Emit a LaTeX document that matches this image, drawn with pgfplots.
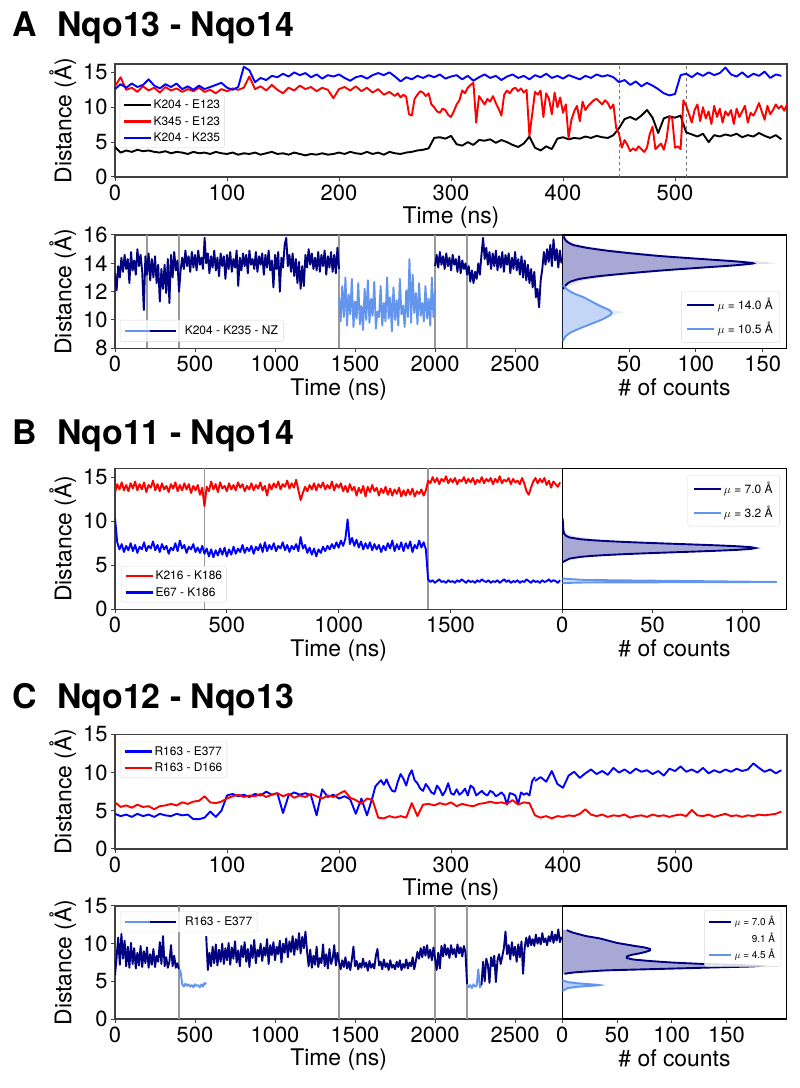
\documentclass[border=0pt]{standalone}
\usepackage{fontspec}
\setmainfont{TeX Gyre Heros}
\usepackage{pgfplots}
\pgfplotsset{compat=1.18}
\definecolor{navyc}{RGB}{0,0,128}
\definecolor{lightb}{RGB}{100,149,237}
\definecolor{redc}{RGB}{255,0,0}
\definecolor{bluec}{RGB}{0,0,255}
\newcommand{\lf}{\fontsize{12}{14}\selectfont}
\newcommand{\smf}{\fontsize{10}{12}\selectfont}
\pgfplotsset{legend image code/.code={\draw[#1, line width=2.2bp] (0bp,0bp) -- (27bp,0bp);}}
\pgfplotsset{
 panel/.style={
  scale only axis, anchor=south west,
  axis line style={black!75, line width=1.1bp},
  every tick/.style={black!75, line width=1bp},
  tick align=outside, major tick length=4bp,
  xtick pos=bottom, ytick pos=left,
  tick label style={font=\fontsize{22}{26}\selectfont},
  label style={font=\fontsize{23}{27}\selectfont},
  /pgf/number format/assume math mode=true,
  /pgf/number format/1000 sep={},
  scaled ticks=false,
  legend cell align=left,
  legend style={draw=black!15, fill=white, fill opacity=0.85, text opacity=1, rounded corners=2bp, inner sep=2.5bp, row sep=2.5bp},
 },
 ts/.style={line width=1.9bp, line join=round},
 vl/.style={black!40, line width=1.3bp, forget plot},
 hleg/.style={legend style={row sep=7bp, inner sep=5bp}},
}
\begin{document}
\begin{tikzpicture}
\path[use as bounding box] (0,0) rectangle (800bp,1088bp);
% titles
\node[anchor=base west, inner sep=0, font=\fontsize{34}{40}\selectfont\bfseries] at (12bp,1051.3bp) {A};
\node[anchor=base west, inner sep=0, font=\fontsize{34}{40}\selectfont\bfseries] at (57bp,1051.3bp) {Nqo13 - Nqo14};
\node[anchor=base west, inner sep=0, font=\fontsize{34}{40}\selectfont\bfseries] at (12bp,643bp) {B};
\node[anchor=base west, inner sep=0, font=\fontsize{34}{40}\selectfont\bfseries] at (57bp,643bp) {Nqo11 - Nqo14};
\node[anchor=base west, inner sep=0, font=\fontsize{34}{40}\selectfont\bfseries] at (12bp,379.7bp) {C};
\node[anchor=base west, inner sep=0, font=\fontsize{34}{40}\selectfont\bfseries] at (57bp,379.7bp) {Nqo12 - Nqo13};

% ---------------- A1 ----------------
\begin{axis}[panel, at={(115bp,911bp)}, width=672bp, height=113bp,
  xmin=0, xmax=600, ymin=0, ymax=16.2, xtick={0,100,200,300,400,500}, ytick={0,5,10,15},
  xlabel={Time (ns)}, ylabel={Distance (Å)},
  legend style={at={(0.007,0.725)}, anchor=north west}]
\addplot[black!55, dashed, line width=1bp, forget plot] coordinates {(450,0) (450,16.2)};
\addplot[black!55, dashed, line width=1bp, forget plot] coordinates {(510,0) (510,16.2)};
\addplot[ts, black] table[header=false, row sep=\\, x expr=\coordindex*5, y index=0] {
4.3\\3.5\\3.8\\3.6\\3.9\\3.7\\3.8\\3.6\\3.5\\3.7\\
3.4\\3.6\\3.5\\3.3\\3.6\\3.4\\3.5\\3.3\\3.6\\3.4\\
3.3\\3.5\\3.2\\3.4\\3.3\\3.5\\3.2\\3.4\\3.6\\3.3\\
3.4\\3.2\\3.5\\3.3\\3.1\\3.3\\3.2\\3.4\\3.2\\3.3\\
3.5\\3.3\\3.6\\3.4\\3.3\\3.6\\3.3\\3.5\\3.2\\3.6\\
3.4\\3.3\\3.5\\3.6\\3.8\\3.9\\4.1\\5.6\\5.7\\5.5\\
5.9\\4.7\\4.5\\5.0\\4.6\\5.3\\5.2\\5.4\\4.9\\5.3\\
5.0\\4.6\\4.3\\4.8\\5.8\\4.2\\3.8\\4.4\\4.0\\5.5\\
5.7\\5.4\\5.6\\5.5\\5.8\\5.6\\5.9\\5.7\\5.6\\6.0\\
7.0\\8.3\\8.6\\8.2\\8.8\\9.6\\8.5\\6.3\\8.4\\8.7\\
8.5\\8.8\\6.4\\6.1\\5.8\\6.2\\5.0\\6.0\\5.8\\6.1\\
5.9\\6.2\\5.7\\6.0\\5.8\\6.3\\5.9\\5.6\\6.0\\5.4\\};
\addlegendentry{\lf K204 - E123}
\addplot[ts, redc] table[header=false, row sep=\\, x expr=\coordindex*5, y index=0] {
13.0\\14.3\\12.5\\12.8\\12.2\\13.0\\12.4\\12.8\\12.1\\12.9\\
12.4\\12.7\\12.2\\12.6\\12.3\\12.8\\12.2\\12.5\\12.0\\12.6\\
12.3\\12.7\\12.5\\12.8\\14.4\\12.6\\13.0\\12.4\\13.2\\12.5\\
12.0\\12.8\\12.4\\13.1\\12.6\\12.9\\12.3\\12.8\\12.5\\11.3\\
12.6\\12.9\\12.4\\13.0\\12.3\\12.8\\12.1\\12.6\\11.8\\12.2\\
11.6\\};
\addlegendentry{\lf K345 - E123}
\addplot[ts, redc, forget plot] table[header=false, row sep=\\, x expr=250+\coordindex*2.5, y index=0] {
11.6\\12.0\\11.4\\11.8\\11.5\\9.0\\8.8\\11.2\\11.8\\12.3\\12.1\\11.6\\12.0\\10.4\\10.0\\9.4\\9.2\\9.8\\9.6\\8.9\\8.6\\
9.4\\10.4\\11.0\\12.4\\12.0\\12.8\\13.2\\13.5\\7.8\\11.6\\11.0\\10.4\\11.2\\10.8\\11.6\\10.6\\9.8\\8.8\\11.8\\12.4\\
12.0\\12.6\\12.8\\12.3\\12.7\\12.1\\12.5\\5.9\\9.0\\12.2\\11.8\\12.4\\8.6\\12.0\\11.2\\9.0\\12.1\\10.0\\11.4\\9.2\\
10.4\\5.6\\8.2\\9.4\\10.2\\8.0\\10.8\\9.6\\10.2\\10.6\\11.0\\11.2\\10.8\\10.4\\11.0\\10.6\\9.8\\10.4\\7.0\\6.2\\
4.2\\5.3\\4.6\\3.7\\4.1\\3.8\\4.4\\4.0\\3.6\\4.2\\6.2\\7.2\\4.0\\4.4\\4.8\\3.9\\5.5\\8.6\\8.4\\4.2\\
4.4\\4.0\\11.0\\10.2\\9.0\\7.8\\9.6\\10.4\\8.0\\10.0\\8.4\\9.4\\7.6\\10.2\\8.6\\9.8\\7.8\\9.4\\8.8\\9.6\\
7.6\\9.8\\8.6\\9.4\\10.2\\7.8\\9.2\\8.8\\9.6\\10.6\\9.4\\8.2\\10.2\\9.0\\9.6\\10.4\\9.8\\10.2\\9.5\\10.4\\};
\addplot[ts, bluec] table[header=false, row sep=\\, x expr=\coordindex*5, y index=0] {
12.6\\13.3\\12.8\\13.4\\12.9\\13.2\\14.0\\13.1\\12.7\\13.3\\
12.9\\13.4\\12.6\\13.0\\12.5\\13.1\\12.6\\12.9\\13.2\\13.5\\
12.8\\12.5\\12.9\\15.8\\15.3\\13.6\\14.2\\13.9\\14.5\\14.3\\
14.8\\14.4\\15.0\\14.6\\14.9\\14.3\\14.7\\14.1\\14.6\\14.4\\
14.7\\14.2\\13.8\\14.3\\14.5\\14.1\\14.6\\14.9\\14.6\\15.0\\
14.4\\13.7\\14.3\\14.0\\14.5\\14.2\\14.6\\14.3\\14.7\\14.1\\
14.4\\14.6\\14.0\\14.5\\13.8\\14.3\\14.7\\14.2\\14.5\\13.9\\
14.4\\14.7\\14.2\\14.5\\14.0\\14.6\\14.3\\14.8\\14.2\\14.5\\
14.1\\14.6\\14.3\\14.0\\14.5\\14.2\\14.7\\14.4\\14.6\\14.3\\
13.6\\13.9\\13.2\\13.7\\13.0\\13.5\\13.1\\12.6\\12.0\\11.7\\
11.9\\14.6\\14.8\\14.3\\14.9\\14.5\\15.0\\14.6\\14.9\\15.7\\
14.7\\14.4\\15.0\\14.3\\14.8\\14.5\\15.1\\14.2\\14.7\\14.5\\};
\addlegendentry{\lf K204 - K235}
\end{axis}

% ---------------- A2 time ----------------
\begin{axis}[panel, at={(115bp,739.7bp)}, width=447.3bp, height=113.3bp,
  xmin=0, xmax=2795, ymin=8, ymax=16, xtick={0,500,1000,1500,2000,2500}, ytick={8,10,12,14,16},
  xlabel={Time (ns)}, ylabel={Distance (Å)},
  legend style={at={(0.011,0.25)}, anchor=north west, inner sep=3.5bp}]
\addplot[vl] coordinates {(200,8) (200,16)};
\addplot[vl] coordinates {(400,8) (400,16)};
\addplot[vl] coordinates {(1400,8) (1400,16)};
\addplot[vl] coordinates {(2000,8) (2000,16)};
\addplot[vl] coordinates {(2200,8) (2200,16)};
\addlegendimage{legend image code/.code={\draw[lightb,line width=2.2bp] (0bp,0bp)--(25bp,0bp); \draw[navyc,line width=2.2bp] (25bp,0bp)--(51bp,0bp);}}
\addlegendentry{\lf\hspace{6bp}K204 - K235 - NZ}
\addplot[ts, navyc, forget plot] table[header=false, row sep=\\, x expr=\coordindex*10, y index=0] {
13.3\\12.1\\13.8\\13.0\\14.4\\13.4\\14.6\\13.6\\14.3\\12.6\\
14.8\\13.5\\14.2\\13.2\\15.0\\13.8\\14.6\\13.4\\10.7\\14.5\\
13.2\\14.7\\12.8\\14.3\\13.0\\14.5\\12.6\\13.9\\11.3\\13.6\\
12.2\\13.9\\11.9\\14.3\\11.2\\14.6\\13.0\\14.8\\13.5\\14.2\\
12.0\\13.5\\14.4\\13.6\\14.9\\13.8\\14.5\\13.4\\14.8\\13.7\\
14.6\\13.5\\14.9\\13.9\\14.4\\13.6\\15.8\\14.0\\14.7\\13.3\\
14.5\\13.7\\14.9\\13.5\\14.4\\13.1\\14.7\\13.8\\14.5\\12.9\\
14.6\\13.6\\14.8\\13.4\\14.3\\13.7\\14.9\\12.4\\14.4\\13.5\\
14.7\\13.8\\14.6\\13.3\\14.9\\13.9\\14.3\\13.6\\14.8\\13.4\\
14.5\\13.9\\14.7\\13.2\\14.6\\13.7\\14.9\\13.5\\14.2\\12.3\\
14.6\\13.6\\14.8\\12.0\\14.4\\13.7\\15.3\\15.8\\13.8\\14.6\\
13.4\\14.7\\13.1\\14.3\\12.6\\14.1\\12.2\\13.8\\12.4\\14.6\\
13.7\\15.0\\13.9\\14.7\\13.6\\14.4\\13.5\\14.8\\13.4\\14.6\\
13.8\\14.9\\13.2\\14.5\\13.7\\14.8\\13.4\\14.6\\13.3\\15.1\\
13.6\\};
\addplot[ts, lightb, forget plot] table[header=false, row sep=\\, x expr=1400+\coordindex*10, y index=0] {
11.6\\9.9\\12.4\\10.2\\13.0\\9.6\\11.8\\10.4\\12.9\\9.5\\
11.3\\10.1\\12.6\\9.7\\11.0\\9.3\\12.2\\10.0\\12.8\\9.8\\
11.5\\10.3\\12.7\\9.4\\10.6\\10.2\\12.4\\9.6\\11.2\\9.9\\
13.0\\10.1\\11.6\\9.2\\12.3\\10.0\\11.4\\9.6\\12.9\\10.4\\
11.0\\9.5\\12.1\\10.2\\14.3\\9.8\\13.2\\10.5\\11.9\\9.7\\
12.6\\10.3\\11.2\\9.9\\12.4\\10.1\\11.5\\9.6\\13.0\\10.2\\
12.1\\};
\addplot[ts, navyc, forget plot] table[header=false, row sep=\\, x expr=2000+\coordindex*10, y index=0] {
13.8\\14.6\\13.7\\14.8\\13.9\\14.5\\13.6\\14.7\\13.8\\14.4\\
13.5\\14.6\\13.9\\14.3\\13.4\\14.5\\13.3\\14.2\\13.6\\14.0\\
13.2\\13.8\\12.7\\13.5\\12.6\\13.4\\12.9\\14.0\\13.2\\14.6\\
15.8\\14.3\\15.1\\13.9\\14.8\\13.6\\14.7\\13.8\\14.9\\13.5\\
14.5\\13.7\\14.8\\13.4\\14.6\\13.9\\14.7\\13.3\\14.4\\13.6\\
14.8\\13.5\\14.3\\13.2\\14.5\\13.0\\14.2\\12.8\\13.9\\12.6\\
13.6\\12.3\\13.4\\11.6\\12.2\\10.9\\12.8\\13.6\\14.8\\13.9\\
15.0\\14.1\\15.3\\13.8\\15.7\\14.2\\15.0\\13.7\\14.9\\14.0\\};
\end{axis}

% ---------------- A2 hist ----------------
\begin{axis}[panel, hleg, at={(562.3bp,739.7bp)}, width=224.4bp, height=113.3bp,
  xmin=0, xmax=168, ymin=8, ymax=16, xtick={50,100,150}, ytick=\empty,
  axis line style={black, line width=1.1bp},
  xlabel={\# of counts},
  legend style={at={(0.97,0.05)}, anchor=south east}]
\addplot[fill=navyc, fill opacity=0.12, draw=none, forget plot] coordinates {(0,12.0)(2,12.2)(5,12.4)(10,12.6)(16,12.8)(30,13.0)(45,13.2)(72,13.4)(96,13.6)(120,13.8)(160,14.0)(152,14.1)(122,14.25)(100,14.4)(72,14.6)(54,14.8)(32,15.0)(19,15.2)(9,15.4)(4,15.6)(1,15.8)(0,16)};
\addplot[fill=lightb, fill opacity=0.18, draw=none, forget plot] coordinates {(0,8.6)(3,8.9)(8,9.2)(16,9.5)(25,9.8)(33,10.1)(40,10.4)(46,10.55)(38,10.7)(31,11.0)(23,11.3)(16,11.6)(10,11.9)(4,12.2)(0,12.5)};
\addplot[fill=navyc, fill opacity=0.25, draw=none, forget plot] coordinates {(0,12.2)(0.5,12.2)(3,12.5)(6,12.7)(13,12.9)(28,13.1)(50,13.3)(75,13.5)(105,13.7)(128,13.85)(143,14.0)(128,14.15)(105,14.3)(75,14.5)(52,14.7)(33,14.9)(18,15.1)(8,15.3)(4,15.5)(2,15.7)(1,15.9)(0,15.9)};
\addplot[fill=lightb, fill opacity=0.25, draw=none, forget plot] coordinates {(0,8.5)(0.5,8.5)(2,8.8)(6,9.1)(13,9.4)(21,9.7)(29,10.0)(35,10.3)(37,10.5)(35,10.7)(28,11.0)(22,11.3)(16,11.6)(8,11.9)(3,12.2)(0.5,12.5)(0,12.5)};
\addplot[navyc, line width=1.9bp, smooth, tension=0.4] coordinates {(0.5,12.2)(3,12.5)(6,12.7)(13,12.9)(28,13.1)(50,13.3)(75,13.5)(105,13.7)(128,13.85)(143,14.0)(128,14.15)(105,14.3)(75,14.5)(52,14.7)(33,14.9)(18,15.1)(8,15.3)(4,15.5)(2,15.7)(1,15.9)};
\addlegendentry{\lf $\mu$ =  14.0 Å}
\addplot[lightb, line width=1.9bp, smooth, tension=0.4] coordinates {(0.5,8.5)(2,8.8)(6,9.1)(13,9.4)(21,9.7)(29,10.0)(35,10.3)(37,10.5)(35,10.7)(28,11.0)(22,11.3)(16,11.6)(8,11.9)(3,12.2)(0.5,12.5)};
\addlegendentry{\lf $\mu$ =  10.5 Å}
\end{axis}

% ---------------- B time ----------------
\begin{axis}[panel, at={(115bp,478.7bp)}, width=447.3bp, height=141bp,
  xmin=0, xmax=2000, ymin=0, ymax=16, xtick={0,500,1000,1500}, ytick={0,5,10,15},
  xlabel={Time (ns)}, ylabel={Distance (Å)},
  legend style={at={(0.015,0.307)}, anchor=north west}]
\addplot[vl] coordinates {(400,0) (400,16)};
\addplot[vl] coordinates {(1400,0) (1400,16)};
\addplot[ts, redc] table[header=false, row sep=\\, x expr=\coordindex*10, y index=0] {
13.2\\14.2\\13.6\\14.4\\13.5\\14.1\\13.4\\14.3\\13.7\\14.5\\
13.5\\14.2\\13.6\\14.4\\13.3\\14.1\\13.8\\14.6\\13.5\\14.2\\
13.4\\14.3\\13.6\\14.0\\13.3\\14.2\\13.7\\14.4\\13.4\\14.1\\
13.5\\14.3\\13.6\\14.2\\13.2\\14.0\\13.5\\14.1\\13.0\\13.8\\
11.7\\13.9\\13.4\\14.5\\13.6\\14.2\\13.3\\14.4\\13.7\\14.0\\
13.4\\14.3\\13.6\\14.1\\13.5\\14.4\\13.8\\14.2\\13.4\\14.0\\
13.6\\14.3\\13.5\\14.1\\13.7\\14.4\\13.5\\14.0\\12.9\\14.2\\
13.6\\14.3\\13.8\\14.5\\13.6\\14.2\\13.9\\14.6\\13.7\\14.3\\
13.8\\14.7\\13.5\\12.4\\13.2\\13.9\\13.4\\14.1\\13.6\\14.3\\
13.5\\14.2\\13.8\\14.4\\13.6\\14.1\\13.7\\14.5\\13.5\\14.2\\
13.8\\14.3\\13.4\\14.0\\13.3\\14.2\\13.5\\13.9\\12.9\\13.8\\
13.2\\14.0\\12.8\\13.9\\13.3\\14.1\\13.4\\13.8\\12.9\\13.7\\
13.2\\13.9\\13.0\\13.7\\12.9\\13.6\\13.1\\13.8\\12.8\\13.5\\
12.9\\13.6\\13.0\\13.7\\12.8\\13.4\\13.1\\13.6\\12.9\\13.5\\
14.6\\14.3\\15.0\\14.4\\14.9\\14.2\\14.8\\14.5\\15.1\\14.3\\
14.8\\14.4\\14.9\\14.2\\14.7\\14.5\\15.0\\14.3\\14.8\\14.4\\
14.9\\14.2\\14.7\\14.4\\15.0\\14.3\\14.8\\14.5\\14.9\\14.2\\
14.8\\14.4\\15.1\\14.3\\14.7\\14.5\\14.9\\14.2\\14.8\\14.4\\
14.6\\14.2\\14.9\\14.3\\13.4\\13.0\\13.8\\14.5\\14.9\\14.3\\
14.8\\14.4\\14.9\\14.1\\14.6\\13.8\\14.5\\14.2\\13.9\\14.4\\};
\addlegendentry{\lf K216 - K186}
\addplot[ts, bluec] table[header=false, row sep=\\, x expr=\coordindex*10, y index=0] {
10.3\\7.6\\6.8\\7.4\\6.5\\7.2\\6.7\\7.5\\6.6\\7.3\\
6.4\\7.1\\6.8\\7.6\\6.6\\7.2\\6.9\\7.7\\6.7\\7.3\\
6.5\\7.4\\6.8\\7.2\\6.3\\7.0\\6.7\\7.5\\6.6\\7.8\\
6.9\\7.3\\6.4\\7.1\\6.8\\7.4\\6.5\\7.0\\6.4\\7.2\\
6.3\\6.9\\6.0\\6.8\\5.9\\6.7\\6.1\\6.9\\6.2\\7.0\\
6.0\\6.8\\6.2\\7.1\\6.3\\6.9\\6.5\\7.3\\6.4\\7.0\\
6.6\\7.2\\6.3\\7.1\\6.7\\7.4\\6.5\\7.6\\6.6\\7.3\\
6.8\\7.5\\6.6\\7.2\\6.9\\7.6\\6.7\\7.3\\6.5\\7.2\\
6.8\\7.4\\6.6\\8.2\\6.9\\7.3\\6.4\\7.0\\6.2\\6.9\\
6.0\\6.8\\6.4\\7.1\\6.6\\7.2\\6.8\\7.4\\6.9\\7.6\\
7.0\\7.8\\7.2\\8.0\\10.2\\7.4\\8.1\\7.2\\7.9\\7.0\\
7.7\\6.8\\7.5\\6.9\\7.6\\6.7\\7.4\\6.8\\7.3\\6.5\\
7.2\\6.7\\7.5\\6.9\\7.8\\6.6\\7.4\\6.8\\7.6\\6.6\\
7.5\\6.9\\7.7\\6.5\\7.3\\6.9\\7.8\\7.0\\7.6\\6.8\\
3.4\\3.1\\3.3\\3.0\\3.2\\3.4\\3.1\\3.2\\3.0\\3.3\\
3.1\\3.2\\3.0\\3.3\\3.1\\3.4\\3.2\\3.0\\3.3\\3.1\\
3.2\\3.0\\3.3\\3.1\\3.4\\3.2\\3.1\\3.3\\3.0\\3.2\\
3.1\\3.3\\3.0\\3.2\\3.4\\3.1\\3.3\\3.0\\3.2\\3.1\\
3.3\\3.0\\3.2\\3.1\\3.4\\3.2\\3.0\\3.3\\3.1\\3.2\\
3.0\\3.3\\3.1\\3.2\\3.4\\3.1\\3.3\\3.2\\3.0\\3.3\\};
\addlegendentry{\lf E67 - K186}
\end{axis}

% ---------------- B hist ----------------
\begin{axis}[panel, hleg, at={(562.3bp,478.7bp)}, width=224.4bp, height=141bp,
  xmin=0, xmax=124.4, ymin=0, ymax=16, xtick={0,50,100}, ytick=\empty,
  axis line style={black, line width=1.1bp},
  xlabel={\# of counts},
  legend style={at={(0.969,0.952)}, anchor=north east}]
\addplot[fill=navyc, fill opacity=0.12, draw=none, forget plot] coordinates {(0,5.4)(3,5.8)(20,6.1)(50,6.45)(85,6.75)(113,6.95)(92,7.2)(52,7.5)(22,7.85)(6,8.3)(0,8.8)};
\addplot[fill=navyc, fill opacity=0.25, draw=none, forget plot] coordinates {(0,5.2)(0.3,5.35)(2,5.55)(4,5.75)(10.1,5.95)(15.8,6.05)(23.6,6.15)(33.6,6.25)(45.7,6.35)(59.3,6.45)(73.3,6.55)(86.5,6.65)(97.3,6.75)(104.5,6.85)(107,6.95)(104.5,7.05)(97.3,7.15)(86.5,7.25)(73.3,7.35)(59.3,7.45)(45.7,7.55)(33.6,7.65)(23.6,7.75)(15.8,7.85)(10.1,7.95)(4,8.15)(2,8.35)(1,8.6)(0.6,9.0)(0.4,9.6)(0.2,10.3)(0,10.3)};
\addplot[fill=lightb, fill opacity=0.3, draw=none, forget plot] coordinates {(0,3.55)(5,3.45)(20,3.3)(119,3.12)(20,3.02)(0,2.9)};
\addplot[navyc, line width=1.9bp] coordinates {(0.3,5.35)(2,5.55)(4,5.75)(10.1,5.95)(15.8,6.05)(23.6,6.15)(33.6,6.25)(45.7,6.35)(59.3,6.45)(73.3,6.55)(86.5,6.65)(97.3,6.75)(104.5,6.85)(107,6.95)(104.5,7.05)(97.3,7.15)(86.5,7.25)(73.3,7.35)(59.3,7.45)(45.7,7.55)(33.6,7.65)(23.6,7.75)(15.8,7.85)(10.1,7.95)(4,8.15)(2,8.35)(1,8.6)(0.6,9.0)(0.4,9.6)(0.2,10.3)};
\addlegendentry{\lf $\mu$ =  7.0 Å}
\addplot[lightb, line width=1.9bp] coordinates {(0,3.5)(5,3.42)(12,3.33)(119,3.1)(12,3.04)(4,3.0)(0,2.95)};
\addlegendentry{\lf $\mu$ =  3.2 Å}
\end{axis}

% ---------------- C1 ----------------
\begin{axis}[panel, at={(115bp,239bp)}, width=672bp, height=114.7bp,
  xmin=0, xmax=600, ymin=0, ymax=15, xtick={0,100,200,300,400,500}, ytick={0,5,10,15},
  xlabel={Time (ns)}, ylabel={Distance (Å)},
  legend style={at={(0.0085,0.935)}, anchor=north west}]
\addplot[ts, bluec] table[header=false, row sep=\\, x expr=\coordindex*5, y index=0] {
4.6\\4.3\\4.5\\4.2\\4.6\\4.3\\4.5\\4.2\\4.6\\4.4\\
4.3\\4.6\\4.4\\4.5\\3.9\\3.9\\4.1\\4.9\\4.2\\5.0\\
7.0\\7.2\\6.9\\7.1\\6.8\\7.2\\7.0\\7.5\\7.1\\7.3\\
4.7\\7.0\\7.4\\7.1\\7.3\\7.0\\4.4\\7.8\\6.8\\7.1\\
6.6\\6.9\\6.5\\4.6\\6.6\\4.4\\6.8\\};
\addlegendentry{\lf R163 - E377}
\addplot[ts, bluec, forget plot] table[header=false, row sep=\\, x expr=230+\coordindex*2.5, y index=0] {
6.8\\8.2\\8.6\\9.0\\8.4\\9.1\\8.2\\7.6\\7.5\\8.8\\
9.8\\9.2\\8.3\\9.6\\10.3\\9.0\\8.6\\7.9\\7.6\\8.5\\
8.0\\7.4\\7.2\\8.3\\7.8\\7.0\\7.6\\8.6\\7.3\\7.1\\
7.8\\7.1\\7.4\\7.9\\7.0\\8.3\\8.0\\7.0\\7.3\\7.6\\
7.2\\7.0\\7.6\\7.4\\6.9\\7.1\\7.4\\7.0\\5.8\\7.3\\
7.2\\7.0\\5.9\\7.4\\7.1\\7.3\\7.0\\8.9\\9.4\\};
\addplot[ts, bluec, forget plot] table[header=false, row sep=\\, x expr=375+\coordindex*5, y index=0] {
8.9\\9.4\\8.8\\10.2\\8.5\\
8.0\\9.6\\10.1\\9.3\\9.9\\10.4\\9.8\\10.2\\9.7\\10.6\\
10.0\\10.4\\9.9\\10.5\\10.1\\10.3\\9.8\\10.2\\9.6\\10.5\\
10.2\\10.8\\10.1\\10.4\\10.0\\10.6\\9.9\\10.3\\10.0\\10.4\\
10.1\\10.5\\10.2\\10.4\\11.2\\10.6\\10.1\\10.4\\9.9\\10.3\\};
\addplot[ts, redc] table[header=false, row sep=\\, x expr=\coordindex*5, y index=0] {
6.1\\5.5\\5.7\\5.4\\5.8\\5.5\\5.6\\5.2\\5.6\\5.7\\
5.9\\5.7\\6.1\\5.9\\6.2\\6.3\\6.9\\6.1\\6.0\\6.2\\
6.6\\6.9\\7.1\\6.8\\7.0\\6.9\\7.2\\6.8\\7.1\\7.3\\
6.9\\7.2\\6.7\\7.0\\6.8\\7.2\\6.9\\6.6\\7.0\\6.8\\
7.2\\7.6\\6.7\\6.4\\5.9\\6.6\\6.4\\4.1\\4.0\\4.3\\
4.1\\4.3\\4.1\\6.0\\4.3\\5.8\\5.9\\5.7\\6.0\\5.8\\
6.1\\5.6\\5.9\\5.7\\5.6\\5.9\\6.0\\6.2\\6.0\\6.1\\
5.9\\6.4\\5.8\\6.1\\6.0\\4.4\\4.1\\4.3\\4.0\\4.3\\
4.2\\4.4\\4.3\\4.6\\5.2\\4.5\\4.3\\4.5\\4.2\\4.4\\
4.3\\4.5\\4.1\\4.3\\4.4\\4.2\\4.5\\4.3\\4.4\\4.2\\
4.4\\4.5\\4.3\\5.1\\4.4\\4.3\\4.5\\4.2\\4.4\\4.6\\
4.3\\4.4\\4.2\\4.4\\4.3\\4.5\\4.4\\4.5\\4.6\\4.9\\};
\addlegendentry{\lf R163 - D166}
\end{axis}

% ---------------- C2 time ----------------
\begin{axis}[panel, at={(115bp,69bp)}, width=447.3bp, height=113bp,
  xmin=0, xmax=2795, ymin=0, ymax=15, xtick={0,500,1000,1500,2000,2500}, ytick={0,5,10,15},
  xlabel={Time (ns)}, ylabel={Distance (Å)},
  legend style={at={(0.0127,0.95)}, anchor=north west, inner sep=3bp}]
\addplot[vl] coordinates {(400,0) (400,15)};
\addplot[vl] coordinates {(1400,0) (1400,15)};
\addplot[vl] coordinates {(2000,0) (2000,15)};
\addplot[vl] coordinates {(2200,0) (2200,15)};
\addlegendimage{legend image code/.code={\draw[lightb,line width=2.2bp] (0bp,0bp)--(25bp,0bp); \draw[navyc,line width=2.2bp] (25bp,0bp)--(51bp,0bp);}}
\addlegendentry{\lf\hspace{6bp}R163 - E377}
\addplot[ts, navyc, forget plot] table[header=false, row sep=\\, x expr=\coordindex*10, y index=0] {
5.8\\8.2\\10.8\\7.2\\11.3\\8.0\\10.4\\7.0\\9.6\\6.8\\
10.1\\7.3\\9.4\\6.7\\8.8\\7.1\\9.7\\6.9\\9.0\\7.4\\
9.5\\6.8\\8.6\\7.2\\9.3\\6.9\\8.4\\7.6\\10.2\\7.3\\
11.0\\7.0\\8.2\\6.8\\7.6\\9.8\\7.0\\8.4\\6.8\\7.4\\
6.6\\};
\addplot[ts, lightb, forget plot] table[header=false, row sep=\\, x expr=400+\coordindex*10, y index=0] {
6.6\\6.3\\4.6\\4.3\\4.7\\4.4\\4.6\\4.3\\4.5\\4.2\\
4.6\\4.4\\4.5\\4.2\\4.6\\4.3\\4.8\\4.6\\};
\addplot[ts, navyc, forget plot] table[header=false, row sep=\\, x expr=570+\coordindex*10, y index=0] {
11.0\\6.5\\8.8\\7.0\\9.6\\7.4\\9.9\\7.1\\9.2\\7.6\\
10.0\\7.3\\9.4\\7.8\\10.1\\7.2\\9.5\\8.0\\10.3\\7.5\\
9.1\\7.0\\9.7\\8.2\\10.2\\7.6\\9.3\\6.9\\9.8\\8.1\\
10.5\\7.4\\9.2\\8.3\\10.0\\7.7\\9.5\\8.4\\10.6\\7.3\\
9.8\\8.5\\10.2\\7.8\\9.6\\8.6\\10.4\\7.5\\10.0\\8.8\\
10.7\\8.2\\10.3\\8.9\\11.0\\8.5\\10.6\\9.2\\11.4\\8.7\\
10.9\\9.4\\11.6\\9.0\\7.0\\9.2\\6.8\\8.4\\7.2\\9.6\\
6.9\\8.1\\7.4\\9.9\\7.0\\8.6\\6.7\\9.3\\7.3\\8.0\\
9.8\\7.1\\8.8\\7.5\\6.6\\7.8\\6.9\\8.2\\6.7\\7.6\\
6.5\\7.9\\9.6\\7.0\\7.7\\6.6\\7.4\\6.8\\8.0\\6.9\\
7.5\\6.4\\7.7\\6.8\\7.3\\6.7\\8.4\\9.3\\7.1\\7.6\\
6.6\\7.9\\6.9\\7.4\\6.5\\7.8\\6.8\\7.2\\6.6\\7.6\\
6.9\\7.8\\6.5\\7.3\\6.8\\7.9\\6.7\\7.5\\7.0\\8.2\\
6.6\\7.7\\8.9\\8.0\\9.4\\8.2\\9.6\\8.4\\9.8\\8.1\\
9.2\\7.8\\9.5\\8.0\\6.5\\8.8\\6.7\\9.7\\8.3\\9.9\\
8.5\\9.4\\8.1\\9.8\\8.6\\9.3\\8.2\\9.9\\8.7\\9.5\\
8.3\\9.7\\8.8\\4.6\\};
\addplot[ts, lightb, forget plot] table[header=false, row sep=\\, x expr=2200+\coordindex*10, y index=0] {
4.6\\4.2\\4.5\\4.1\\4.6\\4.3\\4.4\\6.6\\4.2\\4.5\\};
\addplot[ts, navyc, forget plot] table[header=false, row sep=\\, x expr=2290+\coordindex*10, y index=0] {
4.5\\7.6\\5.0\\8.0\\7.2\\4.8\\8.2\\7.0\\8.4\\4.9\\
7.8\\8.6\\7.3\\8.3\\9.4\\11.6\\8.6\\9.8\\7.9\\10.2\\
8.4\\9.6\\7.6\\9.9\\8.2\\10.3\\6.0\\9.5\\10.8\\9.6\\
11.0\\9.8\\10.6\\9.7\\11.2\\10.0\\10.8\\9.9\\11.4\\10.2\\
10.7\\9.8\\11.0\\10.3\\11.6\\10.1\\11.2\\10.4\\11.9\\10.2\\
10.9\\};
\end{axis}

% ---------------- C2 hist ----------------
\begin{axis}[panel, at={(562.3bp,69bp)}, width=224.4bp, height=113bp,
  xmin=0, xmax=205, ymin=0, ymax=15, xtick={0,50,100,150}, ytick=\empty,
  axis line style={black, line width=1.1bp},
  xlabel={\# of counts},
  legend style={at={(0.976,0.965)}, anchor=north east, inner sep=4bp, row sep=1.5bp},
  legend image code/.code={\draw[#1, line width=2.2bp] (0bp,0bp) -- (22bp,0bp);}]
\addplot[fill=navyc, fill opacity=0.12, draw=none, forget plot] coordinates {(0,5.8)(15,6.2)(60,6.5)(150,6.8)(195,7.0)(150,7.2)(90,7.6)(64,8.0)(60,8.4)(72,8.8)(83,9.2)(76,9.6)(58,10.0)(40,10.5)(22,11.0)(10,11.5)(0,12.0)};
\addplot[fill=lightb, fill opacity=0.2, draw=none, forget plot] coordinates {(0,3.8)(20,4.2)(44,4.5)(20,4.8)(0,5.2)};
\addplot[fill=navyc, fill opacity=0.25, draw=none, forget plot] coordinates {(0,6.0)(2,6.0)(12,6.2)(40,6.45)(90,6.65)(140,6.85)(172,6.97)(180,7.05)(165,7.15)(130,7.3)(100,7.5)(80,7.7)(65,7.9)(59,8.1)(59,8.3)(63,8.5)(70,8.7)(76,8.9)(80,9.1)(80,9.3)(75,9.5)(66,9.7)(58,9.9)(50,10.1)(42,10.4)(34,10.7)(22,11.0)(14,11.3)(9,11.5)(4,11.8)(0,11.8)};
\addplot[fill=lightb, fill opacity=0.3, draw=none, forget plot] coordinates {(0,5.15)(5,4.9)(15,4.72)(34,4.5)(15,4.3)(5,4.1)(0,3.7)};
\addplot[navyc, line width=1.9bp, smooth, tension=0.3] coordinates {(2,6.0)(12,6.2)(40,6.45)(90,6.65)(140,6.85)(172,6.97)(180,7.05)(165,7.15)(130,7.3)(100,7.5)(80,7.7)(65,7.9)(59,8.1)(59,8.3)(63,8.5)(70,8.7)(76,8.9)(80,9.1)(80,9.3)(75,9.5)(66,9.7)(58,9.9)(50,10.1)(42,10.4)(34,10.7)(22,11.0)(14,11.3)(9,11.5)(4,11.8)};
\addlegendentry{\smf $\mu$ =  7.0 Å}
\addlegendimage{empty legend}
\addlegendentry{\smf\phantom{$\mu$ =  }9.1 Å}
\addplot[lightb, line width=1.9bp, smooth, tension=0.3] coordinates {(0,5.15)(5,4.9)(15,4.72)(34,4.5)(15,4.3)(5,4.1)(0,3.7)};
\addlegendentry{\smf $\mu$ =  4.5 Å}
\end{axis}
\end{tikzpicture}
\end{document}
